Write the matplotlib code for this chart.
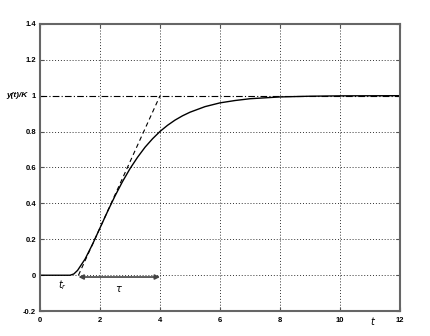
import numpy as np
import matplotlib.pyplot as plt

plt.rcParams['font.family'] = ['Liberation Sans', 'DejaVu Sans']

# step response
t = [0, 1.0, 1.125, 1.25, 1.5, 1.75, 2.0, 2.25, 2.5, 2.75, 3.0, 3.25, 3.5,
     3.75, 4.0, 4.25, 4.5, 4.75, 5.0, 5.5, 6.0, 6.5, 7.0, 8.0, 9.0, 10.0, 12.0]
y = [0, 0, 0.007, 0.027, 0.090, 0.173, 0.264, 0.355, 0.442, 0.522, 0.594,
     0.657, 0.713, 0.760, 0.801, 0.835, 0.864, 0.888, 0.908, 0.939, 0.960,
     0.973, 0.983, 0.993, 0.997, 0.999, 1.0]

# tangent at the inflection point
tan_t = [1.28, 4.0]
tan_y = [0.0, 1.0]

t_r = 1.28
tau_end = 4.0

xticks = [0, 2, 4, 6, 8, 10, 12]
yticks = [-0.2, 0, 0.2, 0.4, 0.6, 0.8, 1, 1.2, 1.4]
ylabels = ['-0.2', '0', '0.2', '0.4', '0.6', '0.8', '1', '1.2', '1.4']

fig = plt.figure(figsize=(4.31, 3.36), dpi=100)
ax = fig.add_axes([0.093, 0.074, 0.835, 0.855])

for xv in xticks[1:-1]:
    ax.axvline(xv, color='#333333', linestyle=(0, (1, 2)), linewidth=0.7, zorder=0)
for yv in yticks[1:-1]:
    if yv == 1:
        continue
    ax.axhline(yv, color='#333333', linestyle=(0, (1, 2)), linewidth=0.7, zorder=0)

ax.axhline(1.0, color='k', linestyle=(0, (6, 2, 1, 2)), linewidth=0.8)
ax.plot(t, y, color='k', linewidth=1.0)
ax.plot(tan_t, tan_y, color='k', linestyle=(0, (4, 3)), linewidth=0.8)

ax.annotate('', xy=(t_r, -0.01), xytext=(tau_end, -0.01),
            arrowprops=dict(arrowstyle='<|-|>', color='#444444', lw=1.2,
                            mutation_scale=7, shrinkA=0, shrinkB=0))

ax.text(0.73, -0.055, '$t_r$', fontsize=7, ha='center', va='center')
ax.text(2.63, -0.075, r'$\tau$', fontsize=7, ha='center', va='center')
ax.text(11.1, -0.255, '$t$', fontsize=7, ha='center', va='center', clip_on=False)
ax.text(-0.42, 1.0, 'y(t)/K', fontsize=6, fontstyle='italic', fontweight='bold',
        ha='right', va='center')

ax.set_xlim(0, 12)
ax.set_ylim(-0.2, 1.4)
ax.set_xticks(xticks)
ax.set_yticks(yticks)
ax.set_yticklabels(ylabels)
ax.tick_params(direction='in', labelsize=5.5, length=3, color='#555555',
               top=True, right=True, pad=3)
ax.tick_params(axis='x', pad=4)
for lab in ax.get_xticklabels() + ax.get_yticklabels():
    lab.set_fontweight('bold')
for s in ax.spines.values():
    s.set_color('#666666')
    s.set_linewidth(1.5)

plt.savefig("out.png", dpi=100)
